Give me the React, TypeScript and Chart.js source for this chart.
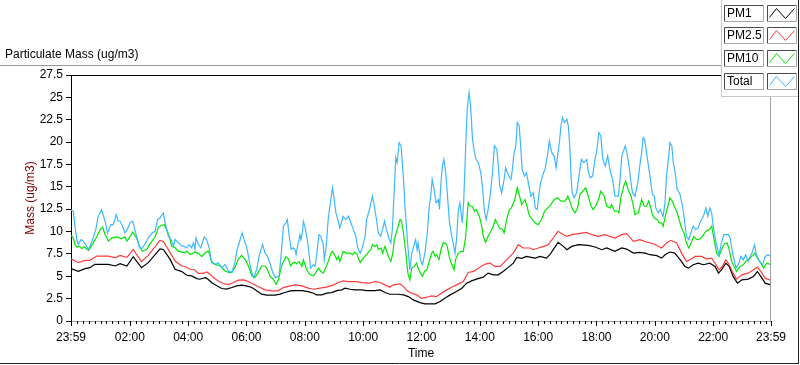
import { useEffect, useRef } from 'react';
import { Chart, registerables } from 'chart.js';

Chart.register(...registerables);

const seriesNames = ['PM1', 'PM2.5', 'PM10', 'Total'];
const seriesColors = ['#000000', '#ff3b3b', '#00e600', '#3db8ff'];

// [minutes since 23:59, value]
const pm1: [number, number][] = [
  [0,5.85],[15,5.56],[29,5.85],[39,5.96],[49,6.33],[77,6.33],[91,6.15],[101,6.41],[115,6.15],[128,7.19],
  [145,5.96],[159,6.52],[183,8.07],[190,8.0],[204,6.89],[214,5.78],[228,5.52],[238,5.11],[248,5.04],[259,4.74],
  [265,4.67],[276,4.85],[282,4.67],[289,4.30],[300,3.93],[310,3.63],[320,3.56],[331,3.74],[341,3.93],[351,4.0],
  [361,3.93],[372,3.74],[382,3.37],[392,3.0],[403,2.89],[420,2.89],[430,3.0],[440,3.19],[451,3.37],[461,3.40],
  [475,3.40],[488,3.29],[499,3.11],[505,2.92],[516,2.92],[526,3.11],[536,3.18],[547,3.40],[557,3.48],[564,3.67],
  [574,3.55],[584,3.48],[598,3.48],[608,3.40],[625,3.40],[636,3.48],[646,3.18],[656,2.99],[673,2.99],[684,2.92],
  [694,2.73],[704,2.36],[718,2.06],[728,1.91],[749,1.91],[759,2.17],[769,2.54],[780,2.92],[793,3.29],[804,3.67],
  [814,4.23],[824,4.49],[834,4.68],[848,4.90],[858,5.35],[869,5.16],[879,5.16],[889,5.54],[900,6.02],[910,6.47],
  [917,7.11],[927,7.0],[937,7.22],[944,7.15],[955,7.03],[965,7.22],[978,7.03],[985,7.41],[992,7.97],[1002,8.79],
  [1013,8.34],[1020,7.97],[1030,8.34],[1044,8.53],[1064,8.45],[1078,8.27],[1092,7.97],[1102,8.16],[1119,7.78],[1133,8.16],
  [1143,8.04],[1157,7.59],[1170,7.67],[1181,7.59],[1191,7.41],[1205,7.30],[1215,7.03],[1222,7.41],[1232,7.71],[1242,7.59],
  [1253,6.85],[1263,6.10],[1270,5.91],[1280,6.29],[1290,6.47],[1301,6.29],[1314,6.47],[1325,6.10],[1332,5.35],[1338,5.72],
  [1347,6.47],[1354,6.10],[1362,4.98],[1371,4.23],[1380,4.60],[1393,4.68],[1404,4.98],[1412,5.54],[1419,4.98],[1428,4.23],
  [1440,4.04],
];

const pm25: [number, number][] = [
  [0,6.96],[15,6.52],[29,6.78],[39,6.78],[53,7.26],[77,7.26],[91,7.07],[101,7.33],[115,7.11],[128,8.0],
  [145,6.63],[159,7.33],[183,9.0],[190,8.89],[200,8.0],[214,6.70],[228,6.15],[235,6.07],[245,5.78],[255,5.70],
  [262,5.33],[272,5.33],[279,5.48],[286,5.22],[293,4.85],[303,4.48],[313,4.19],[324,4.07],[334,4.30],[344,4.56],
  [355,4.59],[365,4.41],[375,4.11],[385,3.85],[399,3.48],[413,3.37],[426,3.37],[437,3.74],[451,3.93],[461,4.04],
  [475,3.93],[488,3.67],[499,3.55],[512,3.67],[526,3.78],[540,4.04],[550,4.30],[560,4.49],[571,4.41],[588,4.41],
  [598,4.30],[615,4.23],[625,4.41],[636,4.30],[646,4.04],[656,3.78],[663,4.04],[677,4.15],[684,3.85],[691,3.40],
  [697,3.18],[711,2.92],[721,2.54],[732,2.66],[742,2.81],[752,2.73],[762,3.11],[773,3.48],[783,3.78],[797,4.15],
  [807,4.41],[817,5.42],[828,5.54],[838,5.91],[852,6.36],[862,6.47],[872,6.10],[883,6.10],[893,6.66],[903,7.22],
  [910,7.59],[920,8.53],[930,8.16],[944,8.16],[951,7.97],[961,8.16],[972,8.34],[982,8.53],[992,9.28],[1002,10.03],
  [1013,9.65],[1020,9.47],[1030,9.65],[1044,9.76],[1061,9.91],[1071,9.65],[1085,9.47],[1098,9.65],[1119,9.28],[1133,9.65],
  [1143,9.76],[1157,8.90],[1170,9.09],[1184,8.83],[1198,8.64],[1215,8.16],[1225,8.72],[1234,9.02],[1246,8.72],[1256,7.59],
  [1266,6.66],[1273,6.85],[1284,7.22],[1297,7.22],[1308,6.92],[1318,7.03],[1327,6.29],[1333,5.72],[1340,6.10],[1347,6.85],
  [1354,6.29],[1362,5.35],[1369,4.68],[1380,5.16],[1393,5.35],[1404,5.72],[1412,6.02],[1419,5.54],[1428,4.79],[1440,4.53],
];

const pm10: [number, number][] = [
  [0,9.56],[5,9.30],[8,8.56],[12,8.26],[16,8.37],[22,8.11],[27,8.30],[36,7.89],[42,8.37],[53,9.41],
  [60,10.22],[65,10.48],[70,9.67],[77,8.93],[84,9.30],[94,9.41],[104,9.19],[111,9.41],[115,8.93],[121,9.41],
  [127,9.93],[135,9.30],[142,8.19],[147,7.81],[156,8.0],[162,8.56],[173,9.41],[180,10.52],[186,10.67],[191,10.78],
  [197,10.22],[202,9.48],[207,8.37],[214,8.19],[221,7.81],[228,7.70],[235,7.63],[238,7.81],[245,7.44],[255,7.70],
  [262,7.56],[269,7.19],[276,7.63],[283,7.81],[289,6.70],[296,6.33],[307,6.15],[317,5.59],[326,5.41],[330,5.41],
  [337,5.96],[344,6.89],[351,7.33],[358,6.89],[365,6.15],[372,5.04],[378,4.85],[385,5.41],[392,6.15],[399,6.15],
  [404,5.78],[409,5.04],[416,4.67],[422,4.11],[427,4.67],[433,6.15],[442,7.19],[447,6.96],[452,6.15],[457,6.52],
  [461,6.55],[464,6.40],[469,6.66],[475,6.10],[478,6.85],[485,5.72],[492,5.16],[499,5.05],[503,5.35],[509,5.91],
  [514,5.54],[519,5.35],[525,6.10],[529,6.66],[535,7.59],[538,7.78],[543,7.30],[547,6.85],[550,7.22],[553,6.66],
  [557,7.30],[560,7.78],[567,7.59],[574,7.59],[579,7.41],[583,7.67],[588,7.52],[591,7.03],[595,6.55],[601,7.03],
  [608,7.41],[613,7.78],[617,7.97],[620,8.53],[624,8.34],[629,8.53],[632,7.97],[638,8.16],[641,7.59],[646,8.34],
  [653,7.22],[658,6.66],[662,7.59],[665,9.09],[670,10.03],[677,11.34],[680,11.15],[684,9.84],[688,7.97],[693,5.35],
  [697,4.60],[701,5.91],[706,6.10],[711,6.47],[714,5.91],[719,5.35],[723,4.98],[727,5.54],[732,5.72],[737,6.66],
  [742,7.59],[745,7.78],[749,7.22],[752,7.41],[757,6.85],[761,7.97],[766,8.79],[771,8.64],[774,8.34],[778,7.22],
  [781,6.66],[784,6.29],[788,5.72],[791,6.85],[797,7.59],[802,7.78],[807,7.78],[812,9.47],[817,13.21],[821,12.83],
  [826,12.83],[830,12.27],[834,12.45],[840,11.71],[845,10.59],[848,9.47],[853,8.79],[858,9.47],[862,9.84],[867,10.40],
  [873,11.34],[878,10.77],[882,10.40],[888,10.21],[891,9.84],[895,10.96],[898,11.71],[902,12.45],[906,12.64],[910,13.21],
  [913,13.58],[918,14.89],[922,14.14],[927,13.02],[934,13.58],[939,12.64],[942,11.90],[949,11.34],[955,10.96],[961,10.77],
  [968,11.34],[974,12.27],[981,12.64],[987,13.02],[994,13.58],[1001,13.77],[1008,13.39],[1016,13.39],[1022,13.95],[1026,13.39],
  [1032,12.45],[1037,12.08],[1042,12.64],[1047,14.14],[1056,14.70],[1059,14.89],[1063,14.14],[1070,12.83],[1074,12.45],[1079,12.83],
  [1085,13.58],[1090,14.51],[1097,13.95],[1102,12.83],[1109,12.64],[1112,13.02],[1118,12.27],[1125,12.27],[1127,12.08],[1131,13.77],
  [1137,15.08],[1141,15.64],[1146,14.70],[1152,13.95],[1157,12.83],[1160,11.90],[1167,12.08],[1174,13.58],[1179,12.83],[1184,12.83],
  [1188,13.39],[1192,12.83],[1196,11.90],[1200,11.52],[1206,11.34],[1210,10.96],[1215,10.96],[1218,10.59],[1224,12.08],[1229,13.02],
  [1232,13.77],[1237,13.39],[1241,12.83],[1246,12.27],[1251,11.34],[1256,10.40],[1261,9.84],[1266,8.72],[1271,8.16],[1277,8.90],
  [1281,9.47],[1287,9.09],[1294,9.17],[1299,9.47],[1306,10.03],[1313,10.21],[1318,10.59],[1323,9.09],[1328,7.59],[1333,7.22],
  [1338,7.97],[1344,8.64],[1350,8.72],[1354,7.97],[1359,6.66],[1369,5.54],[1376,6.10],[1383,6.29],[1388,6.66],[1397,7.03],
  [1407,7.59],[1412,7.03],[1417,6.66],[1425,5.91],[1431,6.47],[1440,6.29],
];

const total: [number, number][] = [
  [0,12.44],[5,12.26],[8,10.59],[12,9.11],[15,8.56],[21,9.11],[25,8.93],[30,8.56],[36,8.0],[42,8.74],
  [51,10.22],[56,11.70],[63,12.44],[66,11.89],[71,10.96],[75,9.85],[82,10.78],[87,10.78],[93,11.89],[97,11.15],
  [101,11.15],[106,10.59],[111,9.85],[117,10.41],[122,11.04],[127,11.15],[133,9.85],[140,8.37],[145,8.07],[152,8.56],
  [159,9.30],[167,9.85],[173,10.04],[178,11.33],[183,11.52],[190,12.07],[193,11.15],[200,9.48],[206,9.11],[211,8.37],
  [214,9.11],[221,8.74],[228,8.37],[232,8.37],[238,8.19],[243,8.56],[248,8.19],[252,8.74],[255,8.0],[257,9.30],
  [262,8.56],[267,8.19],[274,9.41],[279,9.11],[285,8.0],[289,6.52],[296,6.33],[303,6.52],[310,5.96],[317,6.33],
  [324,5.59],[331,5.41],[337,6.52],[342,8.0],[348,9.11],[352,9.85],[358,8.74],[361,8.37],[365,7.26],[370,5.78],
  [376,4.85],[382,5.78],[387,7.26],[394,8.56],[399,7.63],[404,7.26],[409,6.52],[415,5.41],[421,4.85],[428,5.04],
  [432,7.26],[437,10.59],[442,10.96],[445,11.33],[449,9.48],[453,8.0],[457,8.19],[461,7.97],[463,7.41],[466,8.34],
  [469,9.09],[471,9.65],[473,9.09],[476,9.84],[478,11.15],[481,10.59],[485,9.47],[488,8.34],[493,5.91],[499,6.29],
  [502,6.10],[505,7.22],[510,9.65],[514,9.47],[519,8.53],[521,6.85],[525,8.34],[529,11.34],[533,13.02],[538,14.89],
  [541,13.77],[545,12.08],[549,11.34],[553,10.40],[560,11.71],[565,11.34],[571,11.71],[576,10.96],[581,10.21],[586,9.47],
  [590,8.16],[595,7.59],[600,8.34],[605,9.47],[608,11.34],[613,12.27],[617,13.21],[620,13.95],[624,12.83],[629,11.15],
  [632,9.84],[637,9.47],[641,10.21],[645,11.15],[649,10.21],[655,9.09],[658,8.72],[661,10.21],[665,14.70],[668,18.26],
  [671,17.69],[675,19.94],[679,19.57],[684,15.83],[687,12.83],[693,8.34],[697,5.72],[701,7.59],[706,8.53],[709,9.09],
  [712,7.97],[714,8.72],[719,6.85],[723,6.29],[728,7.59],[733,9.84],[737,12.83],[740,13.95],[743,15.83],[747,14.70],
  [751,13.21],[756,13.58],[758,12.46],[761,15.45],[764,17.32],[767,18.07],[771,16.57],[774,14.33],[778,11.34],[782,9.84],
  [786,8.72],[790,7.59],[793,9.09],[797,12.46],[800,13.21],[805,10.96],[808,13.58],[812,19.57],[815,23.68],[819,25.55],
  [822,24.05],[826,20.31],[829,19.19],[833,18.07],[838,17.70],[843,16.57],[847,14.70],[850,12.46],[854,11.34],[858,12.46],
  [863,14.33],[867,16.57],[871,19.57],[876,19.19],[879,17.32],[882,15.08],[886,14.33],[891,15.83],[894,17.13],[898,16.57],
  [901,16.20],[905,15.83],[908,16.95],[911,18.63],[915,19.57],[918,22.18],[922,21.81],[925,19.57],[928,16.95],[933,16.20],
  [937,16.57],[942,15.08],[946,13.95],[951,14.33],[955,12.64],[959,12.46],[963,14.33],[966,15.45],[972,16.57],[975,16.95],
  [980,18.44],[984,20.13],[989,18.82],[994,18.44],[998,17.13],[1001,18.44],[1005,20.13],[1008,21.81],[1011,22.75],[1015,22.18],
  [1020,22.56],[1023,21.81],[1026,19.57],[1029,15.83],[1031,14.33],[1035,13.77],[1040,14.33],[1045,16.20],[1050,18.07],[1055,17.70],
  [1061,18.07],[1064,16.76],[1068,16.01],[1073,16.20],[1078,18.07],[1081,18.82],[1086,21.07],[1090,20.69],[1094,18.07],[1099,17.32],
  [1104,18.44],[1110,16.57],[1114,15.83],[1119,13.95],[1126,13.95],[1130,16.20],[1133,18.44],[1140,19.57],[1143,19.0],[1148,17.32],
  [1152,15.45],[1155,14.33],[1160,13.95],[1166,15.45],[1170,17.32],[1174,18.82],[1177,20.50],[1180,20.31],[1183,19.19],[1188,17.32],
  [1191,16.20],[1196,14.14],[1200,13.95],[1203,12.64],[1208,12.08],[1212,12.46],[1215,12.08],[1218,11.71],[1222,13.21],[1225,16.20],
  [1229,18.07],[1232,19.94],[1236,19.57],[1239,17.70],[1243,16.57],[1247,14.70],[1253,14.14],[1258,12.83],[1261,11.71],[1266,9.47],
  [1271,9.09],[1275,9.84],[1280,10.59],[1285,10.21],[1290,10.40],[1295,11.15],[1301,11.71],[1306,12.64],[1310,11.71],[1314,12.64],
  [1318,12.08],[1321,10.59],[1327,8.72],[1333,7.41],[1338,8.72],[1343,9.65],[1352,9.65],[1356,9.28],[1361,7.59],[1368,5.91],
  [1374,6.47],[1378,7.22],[1383,6.85],[1388,7.41],[1393,6.66],[1397,7.22],[1401,7.59],[1406,8.53],[1410,7.41],[1416,6.66],
  [1423,6.29],[1428,7.22],[1434,7.41],[1440,7.22],
];

const majorTickMinutes = [0, 121, 241, 361, 481, 601, 721, 841, 961, 1081, 1201, 1321, 1440];
const majorTickLabels = ['23:59', '02:00', '04:00', '06:00', '08:00', '10:00', '12:00', '14:00', '16:00', '18:00', '20:00', '22:00', '23:59'];
const minorTickStep = 12;

const chartTitle = 'Particulate Mass (ug/m3)';
const xTitle = 'Time';
const yTitle = 'Mass (ug/m3)';

const FONT = "'Liberation Sans', Arial, sans-serif";
const NARROW = "'Liberation Sans Narrow', 'Liberation Sans', Arial, sans-serif";

export default function App() {
  const ref = useRef<HTMLCanvasElement>(null);

  useEffect(() => {
    document.body.style.margin = '0';
    const canvas = ref.current;
    if (!canvas) return;
    const series = [pm1, pm25, pm10, total];

    const xTicks: number[] = [0];
    for (let m = 1 + minorTickStep; m < 1440; m += minorTickStep) xTicks.push(m);
    xTicks.push(1440);

    const line = (ctx: CanvasRenderingContext2D, x1: number, y1: number, x2: number, y2: number) => {
      ctx.beginPath();
      ctx.moveTo(x1, y1);
      ctx.lineTo(x2, y2);
      ctx.stroke();
    };

    const framePlugin = {
      id: 'frame',
      afterDraw(chart: any) {
        const { ctx, chartArea: a, scales } = chart;
        ctx.save();
        ctx.lineWidth = 1;
        // title
        ctx.fillStyle = '#000';
        ctx.font = `12px ${FONT}`;
        ctx.textBaseline = 'middle';
        ctx.textAlign = 'left';
        ctx.fillText(chartTitle, 5, 55);
        // outer frame
        ctx.strokeStyle = '#9a9a9a';
        line(ctx, 0, 65.5, 800, 65.5);
        ctx.strokeStyle = '#202020';
        line(ctx, 798.5, 65, 798.5, 364);
        line(ctx, 0, 363.5, 799, 363.5);
        // plot frame
        ctx.strokeStyle = '#000';
        line(ctx, a.left, a.top + 0.5, a.right, a.top + 0.5);
        ctx.strokeStyle = '#a0a0a0';
        line(ctx, a.right - 0.5, a.top, a.right - 0.5, a.bottom);
        // x tick marks
        const xs = scales.x;
        ctx.strokeStyle = '#000';
        xTicks.forEach((v) => {
          const px = Math.round(xs.getPixelForValue(v)) + 0.5;
          const major = majorTickMinutes.includes(v);
          line(ctx, px, a.bottom, px, a.bottom + (major ? 5 : 3));
        });
        // legend
        const lx = 721;
        const lh = 96;
        ctx.fillStyle = '#ffffff';
        ctx.fillRect(lx, 0, 800 - lx, lh);
        ctx.strokeStyle = '#c8c8c8';
        line(ctx, lx + 0.5, 0, lx + 0.5, lh + 0.5);
        line(ctx, lx, lh + 0.5, 798, lh + 0.5);
        ctx.strokeStyle = '#202020';
        line(ctx, 798.5, 0, 798.5, lh + 1);
        chart.data.datasets.forEach((ds: any, i: number) => {
          const top = Math.round(4.7 + i * 22.7) + 0.5;
          const h = 16;
          const boxes = [
            [724.5, 39],
            [767.5, 29],
          ];
          boxes.forEach(([bx, bw]) => {
            ctx.fillStyle = '#ffffff';
            ctx.fillRect(bx, top, bw, h);
            ctx.strokeStyle = '#4a4a4a';
            line(ctx, bx, top, bx + bw, top);
            line(ctx, bx, top, bx, top + h);
            ctx.strokeStyle = '#a8a8a8';
            line(ctx, bx + bw, top, bx + bw, top + h);
            line(ctx, bx, top + h, bx + bw, top + h);
          });
          ctx.fillStyle = '#000';
          ctx.font = `12px ${FONT}`;
          ctx.textBaseline = 'middle';
          ctx.fillText(ds.label, 727, top + h / 2 + 0.5);
          const sx = 767.5;
          ctx.strokeStyle = ds.borderColor;
          ctx.beginPath();
          ctx.moveTo(sx + 2, top + h - 4);
          ctx.lineTo(sx + 9, top + 3);
          ctx.lineTo(sx + 18, top + h - 3);
          ctx.lineTo(sx + 27, top + 3);
          ctx.stroke();
        });
        ctx.restore();
      },
    };

    const chart = new Chart(canvas, {
      type: 'line',
      data: {
        datasets: series.map((s, i) => ({
          label: seriesNames[i],
          data: s.map(([x, y]) => ({ x, y })),
          borderColor: seriesColors[i],
          backgroundColor: seriesColors[i],
          borderWidth: 1.2,
          pointRadius: 0,
          tension: 0,
          fill: false,
          order: 3 - i,
        })),
      },
      options: {
        responsive: false,
        animation: false,
        layout: { padding: { top: 75, right: 29, left: 0, bottom: 0 } },
        plugins: {
          legend: { display: false },
          tooltip: { enabled: false },
        },
        scales: {
          x: {
            type: 'linear',
            min: 0,
            max: 1440,
            afterBuildTicks: (s: any) => {
              s.ticks = xTicks.map((v) => ({ value: v }));
            },
            afterFit: (s: any) => {
              s.height = 44;
            },
            grid: { display: false, drawTicks: false },
            border: { display: true, color: '#a0a0a0', width: 1 },
            ticks: {
              autoSkip: false,
              maxRotation: 0,
              minRotation: 0,
              padding: 9,
              color: '#000',
              font: { family: NARROW, size: 12 },
              callback: (v: any) => {
                const idx = majorTickMinutes.indexOf(Number(v));
                return idx >= 0 ? majorTickLabels[idx] : '';
              },
            },
            title: {
              display: true,
              text: xTitle,
              color: '#000',
              font: { family: FONT, size: 12 },
              padding: { top: 0, bottom: 4 },
            },
          },
          y: {
            min: 0,
            max: 27.5,
            afterFit: (s: any) => {
              s.width = 71;
            },
            ticks: {
              stepSize: 2.5,
              padding: 3,
              color: '#000',
              font: { family: NARROW, size: 12 },
              callback: (v: any) => String(Math.round(Number(v) * 10) / 10),
            },
            grid: {
              display: true,
              drawOnChartArea: false,
              drawTicks: true,
              tickLength: 5,
              tickColor: '#000',
            },
            border: { display: true, color: '#000', width: 1 },
            title: {
              display: true,
              text: yTitle,
              color: '#800000',
              font: { family: FONT, size: 12 },
              padding: { top: 23, bottom: 0 },
            },
          },
        },
      },
      plugins: [framePlugin],
    } as any);

    return () => chart.destroy();
  }, []);

  return (
    <div style={{ width: 800, height: 365, position: 'relative', background: '#fff' }}>
      <canvas ref={ref} width={800} height={365} style={{ display: 'block', width: 800, height: 365 }} />
    </div>
  );
}
